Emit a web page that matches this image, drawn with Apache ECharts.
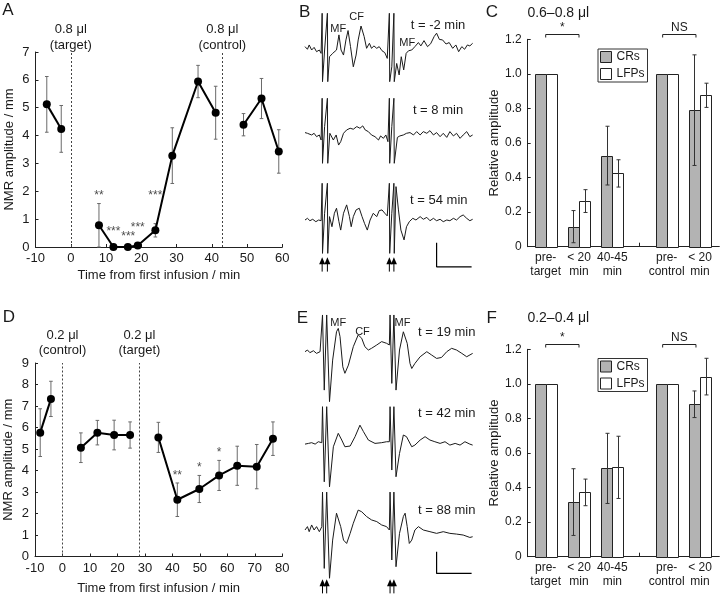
<!DOCTYPE html>
<html><head><meta charset="utf-8">
<script src="https://cdn.jsdelivr.net/npm/echarts@6.0.0/dist/echarts.min.js"></script>
<style>html,body{margin:0;padding:0;background:#fff}#c{width:720px;height:596px}</style>
</head><body><div id="c"></div>
<script>
const FONT = '"Liberation Sans", Arial, Helvetica, sans-serif';
const TXT = '#1a1a1a';
const AX = '#222';

// ---------- Panel A (0.8 ul target then control) ----------
const A_time = [-6.8, -2.7, 8.0, 12.1, 16.2, 19.0, 24.0, 28.8, 36.1, 41.1, 49.0, 54.1, 59.0];
const A_mean = [5.12, 4.24, 0.78, 0.0, 0.0, 0.05, 0.60, 3.28, 5.94, 4.82, 4.39, 5.33, 3.43];
const A_sem  = [1.00, 0.84, 0.78, 0.0, 0.0, 0.03, 0.24, 1.00, 0.58, 0.95, 0.40, 0.72, 0.78];
const A_segment = [0, 0, 1, 1, 1, 1, 1, 1, 1, 1, 2, 2, 2];
const A_infusionTime = [0, 43];
const A_infusionLabel = ['0.8 μl\n(target)', '0.8 μl\n(control)'];
const A_starTime = [8.0, 12.1, 16.3, 19.0, 24.0];
const A_starLevel = [1.85, 0.55, 0.37, 0.70, 1.85];
const A_starText = ['**', '***', '***', '***', '***'];

// ---------- Panel D (0.2 ul control then target) ----------
const D_time = [-8.1, -4.2, 6.7, 12.7, 18.8, 24.6, 34.9, 41.8, 49.8, 57.0, 63.6, 70.7, 76.6];
const D_mean = [5.76, 7.33, 5.06, 5.76, 5.65, 5.65, 5.54, 2.64, 3.14, 3.77, 4.22, 4.18, 5.48];
const D_sem  = [1.11, 0.82, 0.69, 0.57, 0.69, 0.61, 0.70, 0.78, 0.63, 0.70, 0.91, 1.03, 0.78];
const D_segment = [0, 0, 1, 1, 1, 1, 2, 2, 2, 2, 2, 2, 2];
const D_infusionTime = [0, 28];
const D_infusionLabel = ['0.2 μl\n(control)', '0.2 μl\n(target)'];
const D_starTime = [41.8, 49.8, 57.0];
const D_starLevel = [3.75, 4.15, 4.82];
const D_starText = ['**', '*', '*'];

// ---------- Panels C and F (relative amplitude bars) ----------
const BAR_POS = [0.54, 1.54, 2.54, 4.17, 5.17];
const BAR_LABELS = ['pre-\ntarget', '< 20\nmin', '40-45\nmin', 'pre-\ncontrol', '< 20\nmin'];
const BAR_BREAK = [3.35];
const C_CR = [1.0, 0.116, 0.527, 1.0, 0.79];
const C_CR_sem = [0, 0.093, 0.170, 0, 0.32];
const C_LFP = [1.0, 0.264, 0.424, 1.0, 0.876];
const C_LFP_sem = [0, 0.066, 0.079, 0, 0.070];
const F_CR = [1.0, 0.316, 0.511, 1.0, 0.882];
const F_CR_sem = [0, 0.193, 0.203, 0, 0.077];
const F_LFP = [1.0, 0.372, 0.517, 1.0, 1.042];
const F_LFP_sem = [0, 0.077, 0.180, 0, 0.106];
const BRACKET_FROM = [0.54, 4.05];
const BRACKET_TO = [1.54, 5.05];
const BRACKET_TEXT = ['*', 'NS'];
const C_title = '0.6–0.8 μl';
const F_title = '0.2–0.4 μl';

// ---------- Panels B and E: example traces (time ms, amplitude uV) ----------
const B1_trace = [[0,14],[0.7,3],[1.2,21],[1.9,0],[2.6,11],[3.3,-7],[4.1,0],[4.6,-14],[4.9,153],[5.0,-132],[5.6,0],[6.4,153],[6.5,-132],[7.0,-28],[7.9,-14],[9.0,0],[9.7,63],[10.3,0],[11.0,-21],[11.7,42],[12.3,81],[13.0,14],[13.8,-70],[14.6,-21],[15.2,42],[16.0,100],[16.9,56],[17.6,7],[18.4,28],[19.0,7],[19.7,17],[20.5,7],[21.2,14],[22.0,-3],[22.8,-11],[23.5,-35],[24.1,153],[24.2,-132],[24.8,-70],[25.4,153],[25.5,-132],[25.7,-125],[26.2,-56],[26.9,-104],[27.5,-28],[28.2,-83],[28.9,-14],[29.6,-3],[30.5,0],[31.4,14],[32.4,31],[33.1,17],[34.0,39],[35.0,14],[35.9,26],[36.9,56],[37.6,70],[38.4,44],[39.3,42],[40.3,25],[41.2,31],[42.2,7],[43.1,21],[43.9,-7],[44.8,14],[45.6,3],[46.4,21],[47.1,17],[47.9,28]];
const B2_trace = [[0,3],[0.7,0],[1.2,7],[1.9,-7],[2.6,0],[3.3,-14],[4.1,-7],[4.6,-28],[4.9,146],[5.0,-125],[5.6,28],[6.4,146],[6.5,-125],[7.1,0],[8.1,-28],[8.9,-7],[9.6,-49],[10.2,-35],[11.0,0],[11.9,14],[12.9,21],[13.8,17],[14.8,28],[15.7,21],[16.5,31],[17.2,14],[18.1,7],[19.0,-7],[20.0,-14],[21.0,-28],[21.6,-11],[22.4,-21],[23.1,-7],[23.7,-35],[24.1,146],[24.2,-125],[24.8,28],[25.4,146],[25.5,-125],[26.4,-17],[27.1,-11],[28.1,-7],[29.0,0],[30.0,3],[31.0,-7],[31.9,7],[32.9,-7],[33.8,7],[34.8,0],[35.7,11],[36.7,-7],[37.6,3],[38.6,-14],[39.5,0],[40.5,-17],[41.4,7],[42.4,-11],[43.3,0],[44.3,-21],[45.2,-7],[46.2,7],[47.1,-14],[47.9,-7]];
const B3_trace = [[0,0],[0.7,7],[1.4,-3],[2.2,3],[3.1,-7],[3.9,0],[4.6,-3],[4.9,153],[5.0,-139],[5.6,28],[6.4,153],[6.5,-139],[7.0,14],[7.7,-28],[8.4,28],[9.0,49],[9.7,-7],[10.2,-42],[11.0,28],[11.9,63],[12.7,14],[13.2,-28],[13.8,14],[14.6,42],[15.5,49],[16.3,14],[17.0,-14],[17.8,-42],[18.6,0],[19.5,28],[20.5,14],[21.2,39],[22.0,42],[22.8,28],[23.5,17],[24.1,153],[24.2,-139],[24.8,28],[25.4,153],[25.5,-139],[26.0,139],[26.7,42],[27.4,-42],[28.3,-83],[29.0,-28],[29.8,-7],[30.8,7],[31.7,0],[32.9,14],[33.8,3],[34.8,11],[35.7,-3],[36.7,7],[37.6,-3],[38.6,3],[39.5,-7],[40.5,0],[41.4,-3],[42.4,7],[43.3,0],[44.3,14],[45.2,21],[46.2,7],[47.1,-3],[47.9,3]];
const E1_trace = [[0,0],[0.7,7],[1.4,-4],[2.4,4],[3.3,-7],[4.3,0],[4.8,0],[5.0,153],[5.5,-160],[6.2,153],[7.0,-208],[7.9,-35],[9.0,83],[9.5,97],[10.0,63],[10.8,-63],[11.4,-90],[12.4,-56],[13.8,21],[15.2,70],[16.2,56],[17.1,21],[18.1,7],[19.0,14],[20.5,28],[21.9,42],[23.3,35],[24.1,28],[24.3,153],[24.8,-132],[25.4,153],[26.0,-160],[27.0,7],[28.1,83],[28.6,76],[29.2,35],[30.0,-49],[30.5,-70],[31.4,-49],[32.9,-21],[34.8,0],[36.2,-14],[37.6,-28],[39.0,-24],[40.5,0],[41.9,14],[43.3,7],[44.8,-7],[46.2,-21],[47.9,-7]];
const E2_trace = [[0,-3],[1.0,0],[1.9,3],[2.9,-3],[3.8,7],[4.8,3],[5.0,153],[5.5,-160],[6.2,153],[7.0,-181],[8.1,-14],[9.5,42],[10.5,14],[11.4,-14],[12.9,-11],[14.3,28],[15.7,76],[16.7,49],[18.1,14],[20.0,0],[21.9,3],[23.3,7],[24.1,7],[24.3,153],[24.8,-111],[25.4,153],[26.0,-139],[27.0,-42],[28.1,35],[29.0,28],[30.5,-14],[31.4,-7],[32.9,14],[34.3,28],[35.7,14],[37.1,7],[38.6,0],[40.0,7],[41.4,-7],[42.9,0],[44.3,-7],[45.7,7],[47.1,-3],[47.9,-7]];
const E3_trace = [[0,0],[0.7,14],[1.2,-7],[1.9,21],[2.6,0],[3.3,14],[4.1,-7],[4.8,14],[5.0,158],[5.5,-160],[6.2,158],[7.0,-201],[7.9,-42],[9.0,70],[9.5,70],[10.2,14],[11.0,-42],[11.9,-56],[12.9,-14],[13.8,28],[15.2,83],[16.2,76],[17.6,56],[19.0,42],[20.5,35],[21.9,21],[23.3,14],[24.1,0],[24.3,158],[24.8,-125],[25.4,158],[26.0,-153],[27.0,-14],[28.1,56],[28.6,70],[29.2,14],[29.8,-56],[30.5,-42],[31.4,0],[32.4,14],[33.8,0],[35.7,-7],[37.6,-14],[39.5,-7],[41.4,-14],[43.3,-17],[45.2,-21],[47.1,-31],[47.9,-28]];
const B_stimTime = [4.9, 6.4, 24.1, 25.4];
const E_stimTime = [5.0, 6.2, 24.3, 25.4];
const B_scaleMs = 10, B_scaleUv = 100;
const E_scaleMs = 10, E_scaleUv = 90;

// ---------- layout ----------
const grids = [
  {left: 35.5, top: 52, width: 246.8, height: 195},      // 0 A
  {left: 35, top: 363, width: 247.3, height: 193.5},     // 1 D
  {left: 527.7, top: 39.3, width: 191.6, height: 207.4}, // 2 C
  {left: 527.7, top: 349.3, width: 191.6, height: 207.4},// 3 F
  {left: 305, top: 11.6, width: 168, height: 72},        // 4 B1
  {left: 305, top: 94.9, width: 168, height: 72},        // 5 B2
  {left: 305, top: 181.6, width: 168, height: 91.2},     // 6 B3
  {left: 305, top: 313.3, width: 168, height: 91.2},     // 7 E1
  {left: 305, top: 405, width: 168, height: 91.2},       // 8 E2
  {left: 305, top: 491.6, width: 168, height: 103.2}     // 9 E3
].map(g => Object.assign({outerBoundsMode: 'none', containLabel: false}, g));

const baseAxisLine = {show: true, onZero: false, lineStyle: {color: AX, width: 1}};
const tickStyle = {show: true, inside: true, length: 3, lineStyle: {color: AX}};

function timeX(max, nameGap) {
  return {type: 'value', min: -10, max: max, interval: 10,
    axisLine: baseAxisLine, axisTick: tickStyle, splitLine: {show: false},
    axisLabel: {fontSize: 13, color: TXT, fontFamily: FONT, margin: 5},
    name: 'Time from first infusion / min', nameLocation: 'middle', nameGap: nameGap,
    nameTextStyle: {fontSize: 13, color: TXT, fontFamily: FONT}};
}
function nmrY(max) {
  return {type: 'value', min: 0, max: max, interval: 1,
    axisLine: baseAxisLine, axisTick: tickStyle, splitLine: {show: false},
    axisLabel: {fontSize: 13, color: TXT, fontFamily: FONT, margin: 6},
    name: 'NMR amplitude / mm', nameLocation: 'middle', nameGap: 20,
    nameTextStyle: {fontSize: 13, color: TXT, fontFamily: FONT}};
}
function barX() {
  return {type: 'value', min: 0, max: 5.75,
    axisLine: baseAxisLine, splitLine: {show: false},
    axisTick: {show: true, inside: true, length: 4, customValues: BAR_BREAK, lineStyle: {color: AX}},
    axisLabel: {customValues: BAR_POS, fontSize: 12, lineHeight: 14, color: TXT, fontFamily: FONT, margin: 4,
      formatter: v => { let k = 0; BAR_POS.forEach((p, i) => { if (Math.abs(p - v) < Math.abs(BAR_POS[k] - v)) k = i; }); return BAR_LABELS[k]; }}};
}
function barY() {
  return {type: 'value', min: 0, max: 1.2, interval: 0.2,
    axisLine: baseAxisLine, axisTick: tickStyle, splitLine: {show: false},
    axisLabel: {fontSize: 12, color: TXT, fontFamily: FONT, margin: 6, formatter: v => v === 0 ? '0' : v.toFixed(1)},
    name: 'Relative amplitude', nameLocation: 'middle', nameGap: 27,
    nameTextStyle: {fontSize: 13, color: TXT, fontFamily: FONT}};
}
const hidden = (min, max) => ({type: 'value', min, max, show: false, splitLine: {show: false}});

const xAxis = [timeX(60, 22), timeX(80, 25), barX(), barX(),
  hidden(0, 48), hidden(0, 48), hidden(0, 48), hidden(0, 48), hidden(0, 48), hidden(0, 48)];
xAxis.forEach((a, i) => a.gridIndex = i);
const yAxis = [nmrY(7), nmrY(9), barY(), barY(),
  hidden(-140, 160), hidden(-140, 160), hidden(-220, 160), hidden(-220, 160), hidden(-220, 160), hidden(-270, 160)];
yAxis.forEach((a, i) => a.gridIndex = i);

const series = [];

function timecourse(gi, t, m, s, seg, infT, infL, stT, stY, stTx, lineH, lblDist) {
  // error bars
  series.push({type: 'custom', xAxisIndex: gi, yAxisIndex: gi, silent: true, z: 1,
    data: t.map((x, i) => [x, m[i], s[i]]),
    renderItem(params, api) {
      const x = api.value(0), mm = api.value(1), ss = api.value(2);
      if (!(ss > 0)) return null;
      const a = api.coord([x, mm + ss]), b = api.coord([x, mm - ss]);
      const c = 1.8, st = {stroke: '#6a6a6a', lineWidth: 1};
      return {type: 'group', children: [
        {type: 'line', shape: {x1: a[0], y1: a[1], x2: b[0], y2: b[1]}, style: st},
        {type: 'line', shape: {x1: a[0] - c, y1: a[1], x2: a[0] + c, y2: a[1]}, style: st},
        {type: 'line', shape: {x1: b[0] - c, y1: b[1], x2: b[0] + c, y2: b[1]}, style: st}]};
    }});
  // connected segments
  const segs = [...new Set(seg)];
  segs.forEach((sg, k) => {
    const ser = {type: 'line', xAxisIndex: gi, yAxisIndex: gi, z: 3,
      data: t.map((x, i) => [x, m[i]]).filter((d, i) => seg[i] === sg),
      symbol: 'circle', symbolSize: 8, showSymbol: true,
      itemStyle: {color: '#000'}, lineStyle: {color: '#000', width: 2}};
    if (k === 0) {
      ser.markLine = {silent: true, symbol: ['none', 'none'], animation: false,
        lineStyle: {type: [2, 2], color: '#444', width: 1},
        label: {show: true, position: 'end', fontSize: 13, lineHeight: lineH, color: TXT, fontFamily: FONT, distance: lblDist},
        data: infT.map((x, i) => ({xAxis: x, label: {formatter: infL[i]}}))};
    }
    series.push(ser);
  });
  // significance stars
  series.push({type: 'scatter', xAxisIndex: gi, yAxisIndex: gi, z: 4, silent: true,
    symbolSize: 1, itemStyle: {color: 'rgba(0,0,0,0)'},
    data: stT.map((x, i) => [x, stY[i]]),
    label: {show: true, position: 'inside', fontSize: 12, color: TXT, fontFamily: FONT,
      formatter: p => stTx[p.dataIndex]}});
}
timecourse(0, A_time, A_mean, A_sem, A_segment, A_infusionTime, A_infusionLabel, A_starTime, A_starLevel, A_starText, 16, -1);
timecourse(1, D_time, D_mean, D_sem, D_segment, D_infusionTime, D_infusionLabel, D_starTime, D_starLevel, D_starText, 15, 5);

const BAR_W = 0.333;
const CR_FILL = '#b3b3b3', LFP_FILL = '#ffffff';
function bars(gi, name, vals, sems, side, fill) {
  series.push({type: 'custom', name: name, xAxisIndex: gi, yAxisIndex: gi, z: 2,
    itemStyle: {color: fill, borderColor: '#222', borderWidth: 1},
    data: BAR_POS.map((p, i) => [p, vals[i], sems[i]]),
    encode: {x: 0, y: 1},
    renderItem(params, api) {
      const x = api.value(0), v = api.value(1), s = api.value(2);
      const a = api.coord([x + side * BAR_W, v]), b = api.coord([x, 0]);
      const x0 = Math.round(Math.min(a[0], b[0])) + 0.5, x1 = Math.round(Math.max(a[0], b[0])) + 0.5;
      const y0 = Math.round(a[1]) + 0.5, y1 = Math.round(b[1]) + 0.5;
      const ch = [{type: 'rect', shape: {x: x0, y: y0, width: x1 - x0, height: y1 - y0},
        style: {fill: fill, stroke: '#222', lineWidth: 1}}];
      if (s > 0) {
        const cx = x + side * BAR_W / 2;
        const t = api.coord([cx, v + s]), u = api.coord([cx, v - s]);
        const px = Math.round(t[0]) + 0.5, st = {stroke: '#333', lineWidth: 1};
        ch.push({type: 'line', shape: {x1: px, y1: t[1], x2: px, y2: u[1]}, style: st});
        ch.push({type: 'line', shape: {x1: px - 2, y1: t[1], x2: px + 2, y2: t[1]}, style: st});
        ch.push({type: 'line', shape: {x1: px - 2, y1: u[1], x2: px + 2, y2: u[1]}, style: st});
      }
      return {type: 'group', children: ch};
    }});
}
function brackets(gi) {
  series.push({type: 'custom', xAxisIndex: gi, yAxisIndex: gi, silent: true, clip: false, z: 5,
    data: BRACKET_FROM.map((f, i) => [f, BRACKET_TO[i], 1.228]),
    renderItem(params, api) {
      const p = api.coord([api.value(0), api.value(2)]), q = api.coord([api.value(1), api.value(2)]);
      const y = Math.round(p[1]) + 0.5;
      return {type: 'group', children: [
        {type: 'polyline', shape: {points: [[p[0], y + 3], [p[0], y], [q[0], y], [q[0], y + 3]]}, style: {stroke: '#222', lineWidth: 1, fill: null}},
        {type: 'text', style: {text: BRACKET_TEXT[params.dataIndex], x: (p[0] + q[0]) / 2, y: y - 1, align: 'center', verticalAlign: 'bottom', fontSize: 12, fontFamily: FONT, fill: TXT}}]};
    }});
}
bars(2, 'CRs', C_CR, C_CR_sem, -1, CR_FILL);
bars(2, 'LFPs', C_LFP, C_LFP_sem, 1, LFP_FILL);
bars(3, 'CRs', F_CR, F_CR_sem, -1, CR_FILL);
bars(3, 'LFPs', F_LFP, F_LFP_sem, 1, LFP_FILL);
brackets(2); brackets(3);

// traces
[[4, B1_trace], [5, B2_trace], [6, B3_trace], [7, E1_trace], [8, E2_trace], [9, E3_trace]].forEach(([gi, tr]) => {
  series.push({type: 'line', xAxisIndex: gi, yAxisIndex: gi, data: tr, symbol: 'none', showSymbol: false,
    lineStyle: {color: '#1a1a1a', width: 1}, z: 2, clip: false});
});
function scaleBar(gi, ms, uv, bottomUv) {
  series.push({type: 'line', xAxisIndex: gi, yAxisIndex: gi, symbol: 'none', silent: true,
    data: [[47.6 - ms, bottomUv + uv], [47.6 - ms, bottomUv], [47.6, bottomUv]],
    lineStyle: {color: '#000', width: 1.2}});
}
scaleBar(6, B_scaleMs, B_scaleUv, -195);
scaleBar(9, E_scaleMs, E_scaleUv, -181);
function arrows(gi, times, headUv, tailUv) {
  series.push({type: 'custom', xAxisIndex: gi, yAxisIndex: gi, silent: true, clip: false, z: 5,
    data: times.map(t => [t]),
    renderItem(params, api) {
      const h = api.coord([api.value(0), headUv]), e = api.coord([api.value(0), tailUv]);
      return {type: 'group', children: [
        {type: 'line', shape: {x1: h[0], y1: h[1], x2: e[0], y2: e[1]}, style: {stroke: '#000', lineWidth: 1}},
        {type: 'polygon', shape: {points: [[h[0] - 3, h[1] + 3], [h[0] + 3, h[1] + 3], [h[0], h[1] - 4]]}, style: {fill: '#000'}}]};
    }});
}
arrows(6, B_stimTime, -172, -215);
arrows(9, E_stimTime, -222, -264);

const legendBox = (top) => ({orient: 'vertical', left: 598, top: top, padding: [2, 3, 2, 2], itemGap: 5,
  itemWidth: 11, itemHeight: 11, icon: 'rect', borderColor: '#333', borderWidth: 1, backgroundColor: '#fff',
  textStyle: {fontSize: 12, color: TXT, fontFamily: FONT}, selectedMode: false,
  data: [{name: 'CRs', itemStyle: {color: CR_FILL, borderColor: '#222', borderWidth: 1}},
         {name: 'LFPs', itemStyle: {color: LFP_FILL, borderColor: '#222', borderWidth: 1}}]});

const notes = [
  ['A', 8, 10, 17], ['B', 304.7, 12.5, 17], ['C', 492, 12.5, 17],
  ['D', 8.8, 317.5, 17], ['E', 302.5, 318, 17], ['F', 491.7, 318.3, 17],
  [C_title, 558.3, 13.3, 14], [F_title, 558.3, 318.3, 14],
  ['MF', 338.3, 29, 11], ['CF', 356.7, 17, 11], ['MF', 407.3, 42.7, 11],
  ['t = -2 min', 438, 25, 13], ['t = 8 min', 438, 110, 13], ['t = 54 min', 438.8, 200.5, 13],
  ['MF', 338.3, 322.5, 11], ['CF', 362.5, 331.7, 11], ['MF', 402.5, 322.5, 11],
  ['t = 19 min', 446.7, 332.7, 13], ['t = 42 min', 446.7, 413.3, 13], ['t = 88 min', 446.7, 510, 13]
];

const chart = echarts.init(document.getElementById('c'), null, {renderer: 'canvas'});
chart.setOption({
  animation: false,
  backgroundColor: '#fff',
  textStyle: {fontFamily: FONT},
  grid: grids, xAxis, yAxis, series,
  legend: [legendBox(49), legendBox(358.5)],
  graphic: notes.map(([t, x, y, fs]) => ({type: 'text', silent: true,
    style: {text: t, x, y, fontSize: fs, fontFamily: FONT, fill: TXT, align: 'center', verticalAlign: 'middle'}}))
});
</script>
</body></html>
